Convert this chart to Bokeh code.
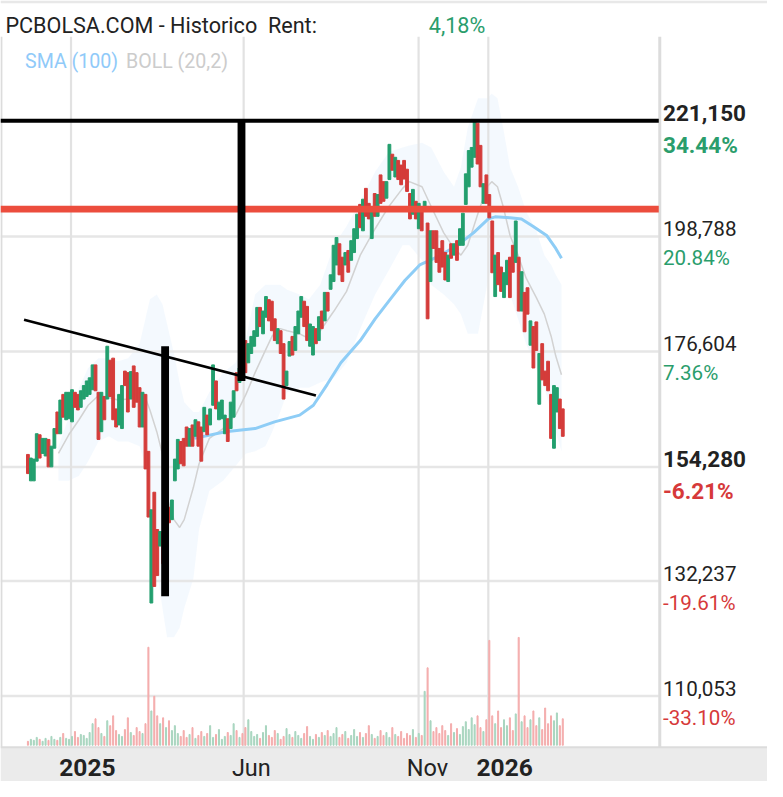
import numpy as np
from bokeh.plotting import figure
from bokeh.models import Range1d, Label, ColumnDataSource
from bokeh.embed import file_html
from bokeh.resources import INLINE

# ---------------- data ----------------
# daily candles (high / low, direction g=up r=down), evenly spaced sessions
candle_high = [
    156.7, 156.0, 155.8, 160.7, 160.5, 159.8, 159.8, 159.6, 158.3, 161.7,
    164.9, 167.2, 168.3, 168.7, 168.7, 169.2, 168.7, 168.3, 169.0, 170.0,
    170.9, 171.5, 174.0, 174.0, 168.7, 168.7, 167.9, 177.6, 174.9, 175.3,
    165.5, 168.3, 170.0, 172.8, 172.5, 172.7, 173.8, 172.5, 169.6, 168.7,
    168.3, 157.3, 146.0, 149.4, 142.2, 141.8, 141.6, 145.0, 146.5, 147.9,
    155.8, 159.6, 159.2, 159.8, 162.0, 161.7, 162.4, 163.4, 163.0, 162.0,
    165.8, 164.3, 165.5, 174.0, 170.9, 166.8, 167.2, 164.3, 163.6, 166.8,
    169.0, 172.5, 173.4, 176.2, 178.7, 178.1, 179.5, 180.6, 185.1, 185.1,
    184.4, 187.2, 186.6, 186.3, 182.9, 181.0, 180.6, 178.1, 172.8, 178.5,
    179.5, 181.4, 184.4, 187.2, 186.3, 185.3, 181.9, 181.4, 181.0, 183.3,
    184.4, 188.0, 188.0, 191.4, 197.1, 198.6, 197.4, 194.8, 195.7, 196.1,
    198.0, 200.3, 203.1, 205.0, 206.0, 208.1, 205.2, 204.1, 207.1, 206.9,
    210.7, 209.4, 209.4, 216.6, 214.7, 214.1, 213.5, 212.6, 213.5, 211.8,
    207.1, 207.9, 205.6, 205.2, 204.1, 205.6, 201.4, 199.9, 199.9, 199.9,
    196.5, 198.0, 195.7, 195.2, 197.4, 197.4, 198.0, 200.3, 203.3, 210.9,
    215.4, 216.0, 221.1, 220.7, 216.4, 209.0, 210.7, 206.9, 201.8, 195.2,
    195.7, 192.9, 191.8, 194.2, 194.8, 197.1, 201.8, 194.8, 192.0, 188.0,
    188.9, 182.5, 181.4, 182.3, 176.2, 178.1, 172.8, 174.7, 168.3, 170.0,
    169.6, 167.4, 165.5,
]
candle_low = [
    153.0, 151.6, 151.6, 155.4, 156.0, 156.9, 156.4, 154.3, 154.3, 157.9,
    160.7, 160.7, 163.9, 163.4, 163.6, 163.0, 165.8, 165.3, 165.8, 167.4,
    167.9, 168.3, 169.2, 169.0, 159.6, 161.1, 163.4, 167.4, 167.9, 163.4,
    162.0, 162.4, 161.7, 170.0, 164.9, 167.4, 165.8, 166.8, 162.0, 162.0,
    153.9, 144.6, 128.0, 131.2, 133.3, 139.0, 135.6, 137.4, 143.5, 144.1,
    151.6, 153.9, 154.9, 154.5, 158.3, 158.3, 158.3, 160.2, 158.3, 155.4,
    161.1, 160.5, 162.4, 166.2, 165.5, 163.4, 163.6, 160.7, 159.2, 161.7,
    163.9, 169.0, 170.6, 171.5, 172.5, 174.4, 176.2, 177.6, 179.5, 181.4,
    180.0, 183.2, 182.5, 180.6, 178.7, 178.1, 176.2, 167.4, 170.0, 175.7,
    175.9, 176.8, 180.0, 183.2, 181.4, 178.7, 177.6, 175.9, 178.1, 178.7,
    181.0, 182.5, 184.4, 188.6, 190.1, 193.3, 191.4, 190.1, 193.3, 191.9,
    194.2, 195.7, 198.4, 200.5, 199.9, 202.7, 202.2, 198.4, 202.7, 202.7,
    205.2, 205.6, 206.2, 209.8, 211.6, 210.3, 209.8, 208.8, 209.9, 207.5,
    202.2, 203.1, 202.2, 200.3, 199.9, 204.1, 182.9, 190.1, 196.5, 193.8,
    191.9, 192.9, 190.4, 190.1, 194.6, 195.2, 194.2, 197.1, 197.1, 205.0,
    208.4, 212.2, 214.1, 212.8, 208.4, 205.2, 205.2, 202.4, 191.8, 187.2,
    189.5, 188.2, 187.0, 189.5, 187.0, 191.9, 193.8, 184.4, 184.4, 180.4,
    183.8, 177.8, 173.4, 176.8, 166.4, 171.1, 170.0, 169.0, 159.8, 157.9,
    164.9, 161.7, 160.2,
]
candle_dir = ("rgggrggrgg" "rgrgggrrgg" "gggrrgrgrr" "rggrrgrrrg" "rrgrrgrgrg"
              "ggrrrgrgrr" "grggrgggrg" "grgrrggggr" "ggrrrgrrgg" "rgggrrggrg"
              "rgrgggrrgr" "gggrgrrgrg" "rrggrgrrrr" "rgrgrgrgrr" "rrrgrgrggg"
              "gggrrgrrrg" "rrggrrgrgr" "rgrrgrrrrg" "grr")
volume = [
    0.4, 0.6, 0.5, 0.8, 0.6, 0.4, 0.7, 0.5, 0.9, 0.6, 0.5, 0.8, 1.2, 0.7, 0.6,
    0.9, 1.4, 0.8, 1.1, 1.0, 0.7, 1.3, 2.2, 2.7, 1.8, 1.2, 0.9, 2.5, 2.0, 3.0,
    1.5, 1.1, 0.9, 1.6, 2.8, 1.3, 1.0, 1.8, 1.4, 1.2, 2.2,
    10.0, 3.5, 5.0, 3.0, 2.2, 2.8, 1.8, 2.5, 1.5, 2.0,
    1.2, 0.9, 1.5, 0.8, 1.1, 1.8, 0.7, 1.0, 1.4, 0.9, 1.2, 2.0, 0.8, 1.1, 1.6,
    0.6, 0.9, 1.3, 1.0, 2.2, 1.5, 0.8, 1.2, 1.8, 2.6, 1.4, 0.9, 1.1, 0.7, 1.3,
    2.0, 1.0, 0.8, 1.5, 1.2, 0.6, 0.9, 1.7, 1.1, 0.8, 1.4, 1.0, 0.7, 1.2, 1.9,
    0.9, 0.6, 1.1, 0.8, 1.3,
    1.0, 1.5, 0.9, 1.2, 1.8, 0.8, 1.1, 1.4, 0.7, 1.0, 1.6, 0.9, 1.3, 0.8, 1.2,
    2.0, 1.1, 0.7, 0.9, 1.5, 1.0, 1.3, 0.8, 1.8, 1.1, 0.9, 1.4, 0.7, 1.2, 1.0,
    1.6, 0.8, 1.2, 1.0, 5.5,
    7.9,
    2.5, 1.4, 1.8, 1.2, 2.0, 1.5, 1.0, 2.2, 1.3, 1.7, 1.1, 1.9, 2.4, 1.6, 2.8,
    2.1, 3.0, 1.8, 1.4, 2.6, 10.7,
    3.0, 2.2, 3.5, 1.8, 2.6, 2.0, 2.8, 1.5, 3.2, 11.0, 2.4, 3.0, 1.8, 2.6, 3.5,
    2.0, 2.8, 1.6, 3.8, 2.2, 3.0, 2.5, 3.3, 2.0, 2.7,
]

# Bollinger (20,2): days since 2025-01-01, middle / upper / lower
boll_day = [-11, -2, 7, 15, 24, 33, 41, 50, 60, 64, 69, 75, 80, 84, 90, 95, 99,
            107, 112, 121, 133, 144, 153, 161, 170, 176, 183, 189, 200, 208, 218,
            230, 241, 253, 266, 278, 290, 296, 307, 315, 326, 335, 341, 347, 356,
            364, 368, 373, 378, 384, 391, 398, 407, 414, 420, 424, 429]
boll_mid = [156.9, 160.5, 163.4, 166.2, 168.1, 167.7, 167.2, 167.4, 168.7, 168.3,
            165.3, 161.1, 156.7, 148.4, 144.1, 142.6, 144.1, 150.3, 154.9, 159.8,
            161.7, 164.3, 168.3, 172.5, 176.8, 179.6, 181.0, 180.6, 180.0, 179.1,
            180.6, 184.4, 188.2, 195.2, 200.3, 204.6, 208.1, 209.4, 208.4, 204.6,
            199.5, 196.5, 195.2, 197.1, 203.3, 208.4, 209.4, 208.4, 204.6, 199.0,
            195.2, 190.8, 187.0, 183.8, 179.5, 175.7, 172.1]
boll_up = [158.3, 163.9, 169.6, 173.4, 175.3, 175.3, 174.7, 175.3, 178.1, 181.9,
           186.7, 187.6, 185.7, 181.9, 176.2, 170.6, 166.8, 164.9, 164.9, 168.7,
           172.5, 174.4, 179.1, 187.6, 189.5, 189.5, 189.5, 188.5, 187.6, 186.7,
           189.5, 197.1, 200.8, 205.6, 211.3, 215.1, 216.0, 216.4, 216.9, 216.0,
           211.3, 208.4, 212.2, 219.8, 225.5, 225.5, 226.4, 225.5, 219.8, 212.2,
           208.4, 203.7, 199.9, 195.2, 193.3, 191.4, 189.5]
boll_low = [151.6, 151.6, 152.6, 155.4, 159.2, 160.2, 159.2, 159.2, 158.3, 155.4,
            146.0, 134.6, 127.0, 121.4, 121.4, 123.2, 127.0, 132.7, 142.2, 149.7,
            151.6, 154.5, 156.9, 157.3, 158.3, 161.1, 164.9, 168.7, 169.6, 169.6,
            170.6, 171.5, 174.4, 181.0, 187.6, 192.3, 197.1, 197.1, 194.2, 189.5,
            187.6, 185.7, 183.8, 180.0, 180.0, 189.5, 193.3, 192.3, 189.5, 187.6,
            182.9, 178.1, 173.4, 169.6, 164.9, 161.1, 157.3]

# SMA (100)
sma_day = [108, 135, 161, 178, 200, 212, 224, 236, 253, 266, 281, 292, 305, 320,
           338, 352, 365, 371, 384, 394, 404, 416, 424, 429]
sma_val = [159.8, 161.1, 161.7, 163.0, 164.3, 166.2, 170.2, 174.4, 178.7, 182.9,
           187.2, 190.3, 193.3, 194.8, 197.1, 199.5, 202.2, 202.6, 202.4, 202.2,
           200.8, 199.0, 196.5, 194.6]

# right price scale
price_ticks = [221.150, 198.788, 176.604, 154.280, 132.237, 110.053]
price_labels = ["221,150", "198,788", "176,604", "154,280", "132,237", "110,053"]
pct_labels = ["34.44%", "20.84%", "7.36%", "-6.21%", "-19.61%", "-33.10%"]
bold_ticks = [True, False, False, True, False, False]

# time scale (days since 2025-01-01)
time_ticks = [0, 151, 304, 365]
time_labels = ["2025", "Jun", "Nov", "2026"]
time_bold = [True, False, False, True]

# hand drawn analysis
level_black = 221.15
level_red = 204.1
trend_day = [-41.1, 214.2]
trend_val = [182.7, 168.1]
vbar_day = [82.3, 149.1]
vbar_top = [177.6, 221.15]
vbar_bot = [129.3, 170.9]

title_text = "PCBOLSA.COM - Historico\u00a0 Rent:"
rent_text = "4,18%"

# ---------------- layout ----------------
S = 0.98
W, H = 767, 781
X_MIN, X_MAX = -61.69, 609.2
Y_MIN, Y_MAX = 93.52, 244.39
PLOT_RIGHT = 514.1      # end of price area (days)
SEP_X = 514.96          # right separator
PLOT_TOP = 237.39
PLOT_BOT = 100.14

GREEN = "#239f6e"
RED = "#d43c3a"
TXT_GREEN = "#2a9d6c"
TXT_RED = "#d6393a"

n = len(candle_high)
cday = -37.7 + 2.5705 * np.arange(n)
ccol = [GREEN if d == "g" else RED for d in candle_dir]
vcol = ["#a8d5bf" if d == "g" else "#f4acac" for d in candle_dir]

p = figure(width=W, height=H, output_backend="svg", toolbar_location=None,
           x_range=Range1d(X_MIN, X_MAX), y_range=Range1d(Y_MIN, Y_MAX),
           x_axis_type=None, y_axis_type=None,
           min_border_left=0, min_border_right=0, min_border_top=0, min_border_bottom=0)
p.outline_line_color = None
p.background_fill_color = "white"
p.border_fill_color = "white"
p.extra_y_ranges = {"vol": Range1d(-3.7, 76.0)}

# bottom time band and top strip
p.quad(left=[X_MIN], right=[X_MAX], bottom=[Y_MIN], top=[PLOT_BOT], color="#ebebeb", line_color=None)
p.segment(x0=[X_MIN], x1=[X_MAX], y0=[PLOT_BOT], y1=[PLOT_BOT], line_color="#dcdcdc", line_width=2)
p.quad(left=[X_MIN], right=[X_MAX], bottom=[243.85], top=[Y_MAX], color="#e8e8e8", line_color=None)

# bollinger band fill
p.varea(x=boll_day, y1=boll_low, y2=boll_up, fill_color="#dcebfc", fill_alpha=0.32)

# grid
p.segment(x0=[X_MIN] * len(price_ticks), x1=[PLOT_RIGHT] * len(price_ticks),
          y0=price_ticks, y1=price_ticks, line_color="#e6e6e6", line_width=2.5)
p.segment(x0=time_ticks, x1=time_ticks, y0=[PLOT_BOT] * 4, y1=[PLOT_TOP] * 4,
          line_color="#e2e2e2", line_width=2.2)
p.segment(x0=[SEP_X, -60.9], x1=[SEP_X, -60.9], y0=[PLOT_BOT] * 2, y1=[PLOT_TOP] * 2,
          line_color="#dcdcdc", line_width=[3, 2])

# volume
p.vbar(x=cday, top=volume, bottom=0, width=0.9, color=vcol, y_range_name="vol")

# bollinger middle
p.line(boll_day, boll_mid, line_color="#d2d2d2", line_width=1.5)

# SMA
p.line(sma_day, sma_val, line_color="#8ecdf6", line_width=3)

# candles
p.vbar(x=cday, top=candle_high, bottom=candle_low, width=2.45, color=ccol)

# drawings
p.segment(x0=[X_MIN], x1=[PLOT_RIGHT], y0=[level_red], y1=[level_red], line_color="#ec4d3d", line_width=7 * S)
p.segment(x0=[X_MIN], x1=[PLOT_RIGHT], y0=[level_black], y1=[level_black], line_color="black", line_width=4 * S)
p.line(trend_day, trend_val, line_color="black", line_width=2.6)
p.segment(x0=vbar_day, x1=vbar_day, y0=vbar_bot, y1=vbar_top, line_color="black", line_width=8 * S)

# ---------------- texts ----------------
FONT = "Roboto"
p.add_layout(Label(x=5 * S, y=H - 26 * S, x_units="screen", y_units="screen", text=title_text,
                   text_font=FONT, text_font_size=f"{22 * S:.1f}px", text_color="#222222",
                   text_baseline="alphabetic"))
p.add_layout(Label(x=437 * S, y=H - 26 * S, x_units="screen", y_units="screen", text=rent_text,
                   text_font=FONT, text_font_size=f"{22 * S:.1f}px", text_color=TXT_GREEN,
                   text_baseline="alphabetic"))
p.add_layout(Label(x=25 * S, y=H - 62 * S, x_units="screen", y_units="screen", text="SMA (100)",
                   text_font=FONT, text_font_size=f"{20 * S:.1f}px", text_color="#90caf9",
                   text_baseline="alphabetic"))
p.add_layout(Label(x=128 * S, y=H - 62 * S, x_units="screen", y_units="screen", text="BOLL (20,2)",
                   text_font=FONT, text_font_size=f"{20 * S:.1f}px", text_color="#cccccc",
                   text_baseline="alphabetic"))

for pv, pl, pc, b in zip(price_ticks, price_labels, pct_labels, bold_ticks):
    fs = (23 if b else 21) * S
    p.add_layout(Label(x=676 * S, y=pv, x_units="screen", y_units="data", text=pl,
                       text_font=FONT, text_font_size=f"{fs:.1f}px",
                       text_font_style="bold" if b else "normal", text_color="#222222",
                       text_baseline="alphabetic", y_offset=8 * S))
    col = TXT_RED if pc.startswith("-") else TXT_GREEN
    p.add_layout(Label(x=676 * S, y=pv, x_units="screen", y_units="data", text=pc,
                       text_font=FONT, text_font_size=f"{fs:.1f}px",
                       text_font_style="bold" if b else "normal", text_color=col,
                       text_baseline="alphabetic", y_offset=-(24.4 if b else 22.3) * S))

for td, tl, b in zip(time_ticks, time_labels, time_bold):
    p.add_layout(Label(x=td, y=H - 783 * S, x_units="data", y_units="screen", text=tl,
                       text_font=FONT, text_font_size=f"{(25 if b else 24) * S:.1f}px",
                       text_font_style="bold" if b else "normal", text_color="#222222",
                       text_baseline="alphabetic", x_offset=-12 * S))

open("out.html", "w").write(file_html(p, INLINE))
